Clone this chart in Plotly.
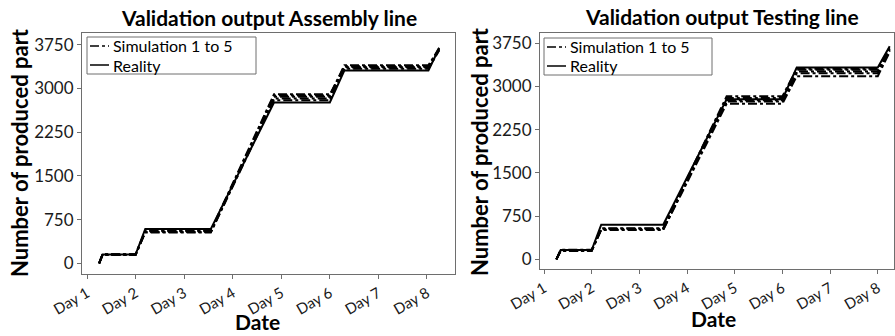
import plotly.graph_objects as go
from plotly.subplots import make_subplots

W, H = 895, 336

# ---------------- data ----------------
tick_vals = [1, 2, 3, 4, 5, 6, 7, 8]
tick_text = ["Day 1", "Day 2", "Day 3", "Day 4", "Day 5", "Day 6", "Day 7", "Day 8"]
y_ticks = [0, 750, 1500, 2250, 3000, 3750]

days_asm = [1.25, 1.32, 2.0, 2.2, 3.55, 4.85, 6.0, 6.3, 8.03, 8.25]
reality_asm = [0, 150, 150, 590, 590, 2760, 2760, 3310, 3310, 3690]
sim1_asm = [0, 140, 140, 530, 530, 2800, 2800, 3340, 3340, 3650]
sim2_asm = [0, 150, 150, 540, 540, 2830, 2830, 3360, 3360, 3670]
sim3_asm = [0, 145, 145, 550, 550, 2860, 2860, 3380, 3380, 3700]
sim4_asm = [0, 155, 155, 535, 535, 2880, 2880, 3400, 3400, 3680]
sim5_asm = [0, 150, 150, 560, 560, 2900, 2900, 3370, 3370, 3660]

days_tst = [1.26, 1.35, 2.0, 2.2, 3.5, 4.83, 6.0, 6.3, 8.0, 8.25]
reality_tst = [0, 160, 160, 600, 600, 2780, 2780, 3330, 3330, 3700]
sim1_tst = [0, 150, 150, 510, 510, 2700, 2700, 3180, 3180, 3600]
sim2_tst = [0, 160, 160, 520, 520, 2740, 2740, 3230, 3230, 3640]
sim3_tst = [0, 155, 155, 530, 530, 2760, 2760, 3260, 3260, 3660]
sim4_tst = [0, 145, 145, 525, 525, 2800, 2800, 3290, 3290, 3620]
sim5_tst = [0, 165, 165, 540, 540, 2830, 2830, 3310, 3310, 3680]

titles = ["Validation output Assembly line", "Validation output Testing line"]
legend_labels = ["Simulation 1 to 5", "Reality"]
x_title = "Date"
y_title = "Number of produced part"

FONT = "Lato"


def px(x):
    return x / W


def py(y):
    return 1 - y / H


fig = make_subplots(rows=1, cols=2)

panels = [
    (1, days_asm, reality_asm, [sim1_asm, sim2_asm, sim3_asm, sim4_asm, sim5_asm]),
    (2, days_tst, reality_tst, [sim1_tst, sim2_tst, sim3_tst, sim4_tst, sim5_tst]),
]
for col, days, real, sims in panels:
    for s in sims:
        fig.add_trace(go.Scatter(x=days, y=s, mode="lines",
                                 line=dict(color="black", width=2, dash="dashdot"),
                                 showlegend=False, hoverinfo="skip"), row=1, col=col)
    fig.add_trace(go.Scatter(x=days, y=real, mode="lines",
                             line=dict(color="black", width=2),
                             showlegend=False, hoverinfo="skip"), row=1, col=col)

axis_common = dict(
    showgrid=False, zeroline=False, showline=True, linecolor="#6e6e6e", linewidth=1,
    mirror=True, ticks="outside", ticklen=4, tickcolor="#6e6e6e", automargin=False,
)

fig.update_xaxes(**axis_common, tickvals=tick_vals, ticktext=tick_text, tickangle=-30,
                 tickfont=dict(family=FONT, size=15, color="#1a1a1a"))
fig.update_yaxes(**axis_common, tickvals=y_ticks,
                 tickfont=dict(family=FONT, size=17, color="#1a1a1a"))

fig.update_layout(
    xaxis=dict(domain=[px(82), px(455)], range=[0.897, 8.577]),
    yaxis=dict(domain=[py(274), py(33)], range=[-184, 3952]),
    xaxis2=dict(domain=[px(540), px(894)], range=[0.916, 8.34]),
    yaxis2=dict(domain=[py(269), py(33)], range=[-168, 3929]),
    width=W, height=H,
    margin=dict(l=0, r=0, t=0, b=0, autoexpand=False),
    plot_bgcolor="white", paper_bgcolor="white",
    showlegend=False,
)

annotations = []
shapes = []

# titles
for cx, cy, t in [(269, 17, titles[0]), (722, 16, titles[1])]:
    annotations.append(dict(x=px(cx), y=py(cy), xref="paper", yref="paper", text=t,
                            showarrow=False, xanchor="center", yanchor="middle",
                            font=dict(family=FONT, size=21, color="black", weight="bold")))
# axis titles
for cx, cy in [(20, 153), (480, 152)]:
    annotations.append(dict(x=px(cx), y=py(cy), xref="paper", yref="paper", text=y_title,
                            showarrow=False, xanchor="center", yanchor="middle", textangle=-90,
                            font=dict(family=FONT, size=22, color="black", weight="bold")))
for cx, cy in [(257, 321), (713, 318)]:
    annotations.append(dict(x=px(cx), y=py(cy), xref="paper", yref="paper", text=x_title,
                            showarrow=False, xanchor="center", yanchor="middle",
                            font=dict(family=FONT, size=21, color="black", weight="bold")))

# manual legends
for bx0, by0, bx1 in [(87, 37, 256), (544, 38, 712)]:
    by1 = by0 + 37
    shapes.append(dict(type="rect", xref="paper", yref="paper",
                       x0=px(bx0), x1=px(bx1), y0=py(by1), y1=py(by0),
                       line=dict(color="#6e6e6e", width=1), fillcolor="white"))
    ly1 = by0 + 9
    ly2 = by0 + 28
    shapes.append(dict(type="line", xref="paper", yref="paper",
                       x0=px(bx0 + 3), x1=px(bx0 + 22), y0=py(ly1), y1=py(ly1),
                       line=dict(color="black", width=1.5, dash="dashdot")))
    shapes.append(dict(type="line", xref="paper", yref="paper",
                       x0=px(bx0 + 3), x1=px(bx0 + 22), y0=py(ly2), y1=py(ly2),
                       line=dict(color="black", width=1.5)))
    for ly, lab in [(ly1, legend_labels[0]), (ly2, legend_labels[1])]:
        annotations.append(dict(x=px(bx0 + 25), y=py(ly), xref="paper", yref="paper", text=lab,
                                showarrow=False, xanchor="left", yanchor="middle", borderpad=0,
                                font=dict(family=FONT, size=16, color="black")))

fig.update_layout(annotations=annotations, shapes=shapes)

fig.write_html("out.html", config={"displayModeBar": False},
               post_script="document.body.style.margin='0';document.body.style.overflow='hidden';")
